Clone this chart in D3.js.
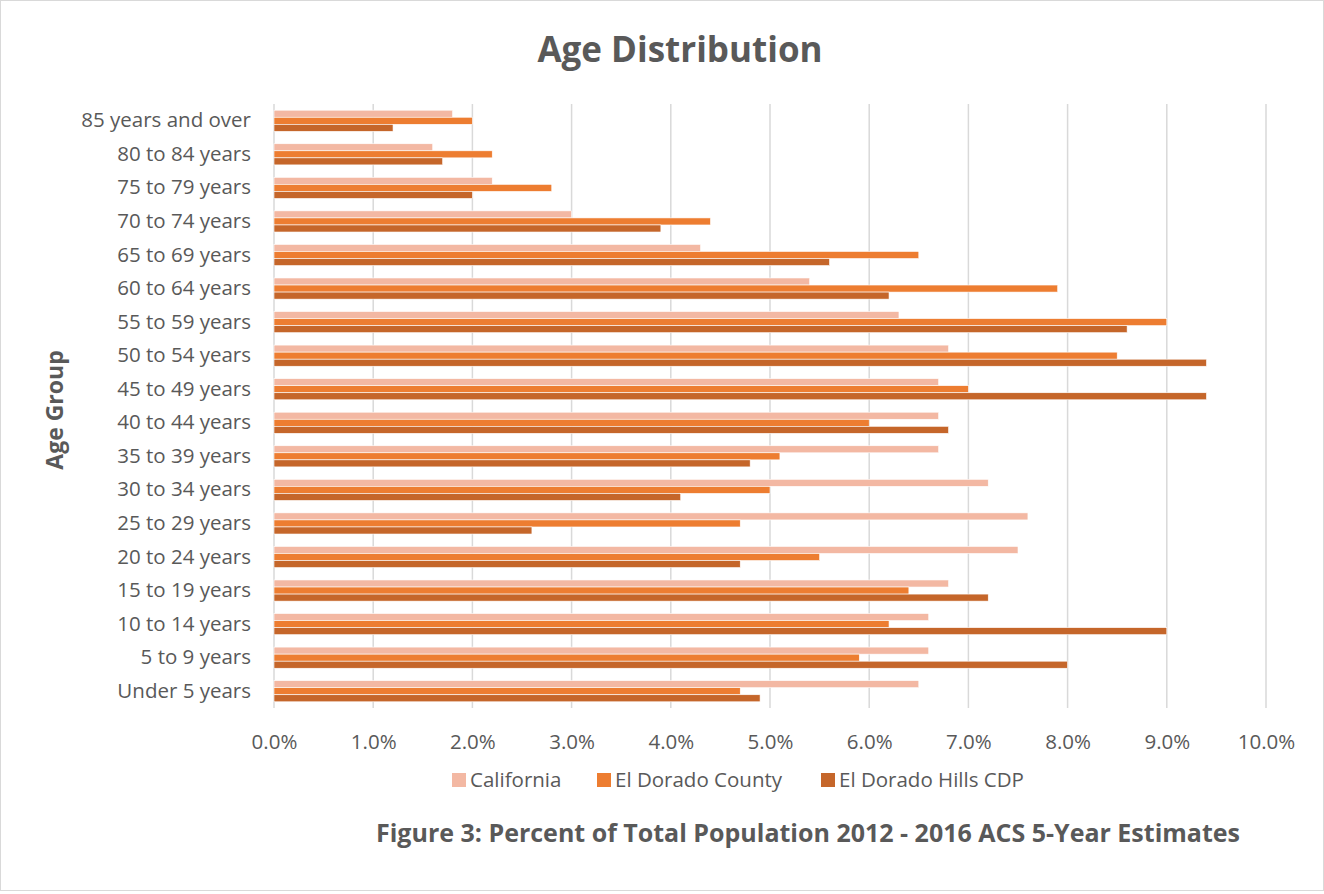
<!DOCTYPE html>
<html>
<head>
<meta charset="utf-8">
<script src="https://cdn.jsdelivr.net/npm/d3@7"></script>
<style>
  body { margin: 0; background: #fff; }
  text { font-family: "Open Sans", sans-serif; fill: #595959; }
</style>
</head>
<body>
<svg id="svg" width="1324" height="894"></svg>
<script>
// age groups, top to bottom as drawn
const ageGroups = [
  "85 years and over", "80 to 84 years", "75 to 79 years", "70 to 74 years",
  "65 to 69 years", "60 to 64 years", "55 to 59 years", "50 to 54 years",
  "45 to 49 years", "40 to 44 years", "35 to 39 years", "30 to 34 years",
  "25 to 29 years", "20 to 24 years", "15 to 19 years", "10 to 14 years",
  "5 to 9 years", "Under 5 years"
];
const seriesNames = ["California", "El Dorado County", "El Dorado Hills CDP"];
const california = [1.8, 1.6, 2.2, 3.0, 4.3, 5.4, 6.3, 6.8, 6.7, 6.7, 6.7, 7.2, 7.6, 7.5, 6.8, 6.6, 6.6, 6.5];
const elDoradoCounty = [2.0, 2.2, 2.8, 4.4, 6.5, 7.9, 9.0, 8.5, 7.0, 6.0, 5.1, 5.0, 4.7, 5.5, 6.4, 6.2, 5.9, 4.7];
const elDoradoHills = [1.2, 1.7, 2.0, 3.9, 5.6, 6.2, 8.6, 9.4, 9.4, 6.8, 4.8, 4.1, 2.6, 4.7, 7.2, 9.0, 8.0, 4.9];
const xTicks = [0, 1, 2, 3, 4, 5, 6, 7, 8, 9, 10];

const colors = ["#f3b8a3", "#ed7d31", "#c5662a"];
const seriesValues = [california, elDoradoCounty, elDoradoHills];

const svg = d3.select("#svg");
const W = 1324, H = 894;
const plot = { left: 274, right: 1266, top: 104, bottom: 708 };

// outer frame
svg.append("rect")
  .attr("x", 0.5).attr("y", 0.5)
  .attr("width", W - 1).attr("height", H - 4)
  .attr("fill", "#fff").attr("stroke", "#d9d9d9");

const x = d3.scaleLinear().domain([0, 10]).range([plot.left, plot.right]);
const y = d3.scaleBand().domain(ageGroups).range([plot.top, plot.bottom]).paddingInner(0.37).paddingOuter(0.185);
const ySub = d3.scaleBand().domain(seriesNames).range([0, y.bandwidth()]);

// gridlines
svg.append("g")
  .selectAll("line")
  .data(xTicks)
  .enter()
  .append("line")
  .attr("x1", d => x(d)).attr("x2", d => x(d))
  .attr("y1", plot.top).attr("y2", plot.bottom)
  .attr("stroke", "#d9d9d9")
  .attr("stroke-width", 1.5);

// bars
const rows = ageGroups.map((g, i) => ({ group: g, vals: seriesValues.map((s, k) => ({ name: seriesNames[k], v: s[i], k })) }));

svg.append("g")
  .selectAll("g")
  .data(rows)
  .enter()
  .append("g")
  .attr("transform", d => "translate(0," + y(d.group) + ")")
  .selectAll("rect")
  .data(d => d.vals)
  .enter()
  .append("rect")
  .attr("x", x(0))
  .attr("y", d => ySub(d.name))
  .attr("width", d => x(d.v) - x(0))
  .attr("height", ySub.bandwidth())
  .attr("fill", d => colors[d.k])
  .attr("stroke", "#fff")
  .attr("stroke-width", 0.6);

// x axis labels
const xAxis = d3.axisBottom(x)
  .tickValues(xTicks)
  .tickFormat(d => d.toFixed(1) + "%")
  .tickSize(0)
  .tickPadding(0);
const gx = svg.append("g")
  .attr("transform", "translate(0," + 749 + ")")
  .call(xAxis);
gx.select(".domain").remove();
gx.selectAll("text")
  .attr("dy", "0")
  .style("font-family", "'Open Sans', sans-serif")
  .style("font-size", "20.5px")
  .attr("fill", "#595959");

// y axis labels
const yAxis = d3.axisLeft(y).tickSize(0).tickPadding(0);
const gy = svg.append("g")
  .attr("transform", "translate(251,0)")
  .call(yAxis);
gy.select(".domain").remove();
gy.selectAll("text")
  .style("font-family", "'Open Sans', sans-serif")
  .style("font-size", "20.5px")
  .attr("fill", "#595959");

// title
svg.append("text")
  .attr("x", 680).attr("y", 62)
  .attr("text-anchor", "middle")
  .style("font-size", "35px")
  .style("font-weight", "bold")
  .text("Age Distribution");

// y axis title
svg.append("text")
  .attr("transform", "translate(63,410) rotate(-90)")
  .attr("text-anchor", "middle")
  .style("font-size", "23px")
  .style("font-weight", "bold")
  .text("Age Group");

// legend
const legendX = [452, 597, 821];
const legend = svg.append("g")
  .selectAll("g")
  .data(seriesNames)
  .enter()
  .append("g")
  .attr("transform", (d, i) => "translate(" + legendX[i] + ",780)");
legend.append("rect")
  .attr("x", 0).attr("y", -7)
  .attr("width", 14).attr("height", 14)
  .attr("fill", (d, i) => colors[i]);
legend.append("text")
  .attr("x", 18).attr("y", 6.5)
  .style("font-size", "20.5px")
  .text(d => d);

// caption
svg.append("text")
  .attr("x", 808).attr("y", 842)
  .attr("text-anchor", "middle")
  .style("font-size", "25px")
  .style("font-weight", "bold")
  .text("Figure 3: Percent of Total Population 2012 - 2016 ACS 5-Year Estimates");
</script>
</body>
</html>
